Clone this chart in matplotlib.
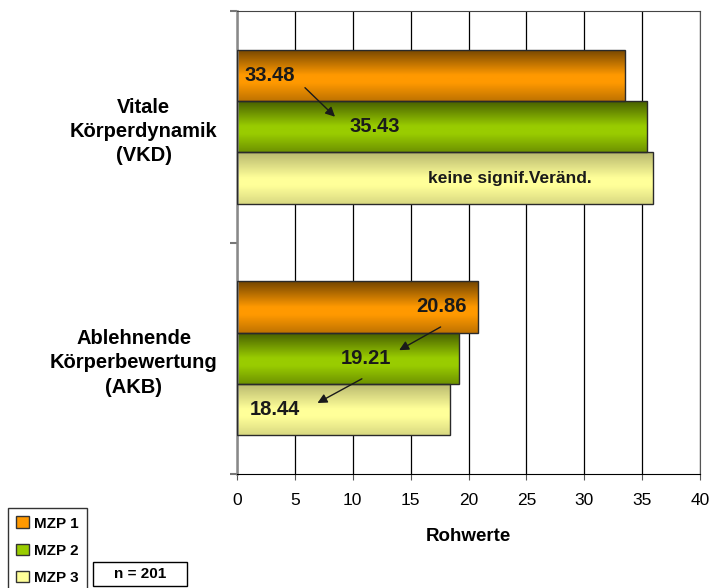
# horizontal bar chart: Rohwerte VKD / AKB at three measurement points

import numpy as np
import matplotlib
matplotlib.use('Agg')
import matplotlib.pyplot as plt
import matplotlib.colors as mcolors
from matplotlib.patches import Patch, Rectangle

plt.rcParams['font.family'] = ['Liberation Sans', 'DejaVu Sans']

categories = ['Ablehnende\nKörperbewertung\n(AKB)', 'Vitale\nKörperdynamik\n(VKD)']
series = ['MZP 1', 'MZP 2', 'MZP 3']
mzp1 = [20.86, 33.48]
mzp2 = [19.21, 35.43]
mzp3 = [18.44, 35.9]
colors = ['#FF9900', '#99CC00', '#FFFF99']
xticks = [0, 5, 10, 15, 20, 25, 30, 35, 40]

fig = plt.figure(figsize=(7.12, 5.88), dpi=100)
ax = fig.add_axes([237/712, 1-474/588, 463/712, 463/588])

h = 0.222
ypos = np.arange(len(categories))
offsets = [h, 0, -h]
profiles = [[0.45, 1.0, 1.0, 0.75], [0.45, 1.0, 1.0, 0.72], [0.72, 1.0, 1.0, 0.85]]


def shaded_bars(vals, off, color, prof):
    bars = ax.barh(ypos + off, vals, height=h, color=color, zorder=2)
    base = np.array(mcolors.to_rgb(color))
    t = np.linspace(0, 1, 80)
    f = np.interp(t, [0, 0.5, 0.65, 1], prof)
    img = np.clip(base[None, :] * f[:, None], 0, 1)[:, None, :]
    for b, v, y in zip(bars, vals, ypos + off):
        im = ax.imshow(img, extent=[0, v, y - h/2, y + h/2], aspect='auto',
                       origin='upper', zorder=2.5)
        im.set_clip_path(b)
    ax.barh(ypos + off, vals, height=h, fill=False, edgecolor='#2a2a2a',
            linewidth=1, zorder=3)


for vals, off, c, p in zip([mzp1, mzp2, mzp3], offsets, colors, profiles):
    shaded_bars(vals, off, c, p)

ax.set_xlim(0, 40)
ax.set_ylim(-0.5, 1.5)
ax.set_xticks(xticks)
ax.set_xticklabels([str(x) for x in xticks], fontsize=12.5)
ax.tick_params(axis='x', length=4, pad=10, color='#555')
ax.xaxis.grid(True, color='black', linewidth=0.9)
ax.set_axisbelow(True)

ax.set_yticks(ypos)
ax.set_yticklabels(categories, fontsize=14.5, fontweight='bold',
                   multialignment='center', linespacing=1.35)
ax.set_yticks([-0.5, 0.5, 1.5], minor=True)
ax.tick_params(axis='y', which='major', length=0, pad=14)
ax.tick_params(axis='y', which='minor', length=5, color='#777', width=1.5)

ax.spines['left'].set_color('#888')
ax.spines['left'].set_linewidth(1.8)
ax.spines['right'].set_color('#555')
ax.spines['top'].set_color('#444')
ax.spines['bottom'].set_color('black')

ax.set_xlabel('Rohwerte', fontsize=13.5, fontweight='bold', labelpad=14)

# value labels
tkw = dict(fontsize=14.5, fontweight='bold', color='#1a1a1a', va='center', ha='center', zorder=5)
ax.text(2.85, 1 + h, '33.48', **tkw)
ax.text(11.9, 1.0, '35.43', **tkw)
ax.text(23.6, 1 - h, 'keine signif.Veränd.', fontsize=12.5, fontweight='bold',
        color='#1a1a1a', va='center', ha='center', zorder=5)
ax.text(17.7, h, '20.86', **tkw)
ax.text(11.1, 0.0, '19.21', **tkw)
ax.text(3.3, -h, '18.44', **tkw)

akw = dict(arrowstyle='-|>', color='#1a1a1a', lw=1, mutation_scale=14)
ax.annotate('', xy=(8.64, 1.035), xytext=(5.7, 1.177), arrowprops=akw, zorder=5)
ax.annotate('', xy=(13.8, 0.029), xytext=(17.8, 0.141), arrowprops=akw, zorder=5)
ax.annotate('', xy=(6.74, -0.199), xytext=(11.0, -0.083), arrowprops=akw, zorder=5)

handles = [Patch(facecolor=c, edgecolor='#333') for c in colors]
leg = fig.legend(handles, series, loc='upper left',
                 bbox_to_anchor=(8/712, 1-508/588), frameon=True, fancybox=False,
                 edgecolor='black', prop={'weight': 'bold', 'size': 11},
                 handlelength=0.8, handleheight=0.8, handletextpad=0.35,
                 labelspacing=0.85, borderpad=0.55, borderaxespad=0)
leg.get_frame().set_linewidth(1)

fig.patches.append(Rectangle((93/712, 1-586/588), 94/712, 24/588,
                             transform=fig.transFigure, fill=False,
                             edgecolor='black', linewidth=1))
fig.text(140/712, 1-574/588, 'n = 201', fontsize=11, fontweight='bold',
         ha='center', va='center')

fig.savefig('out.png', dpi=100)
